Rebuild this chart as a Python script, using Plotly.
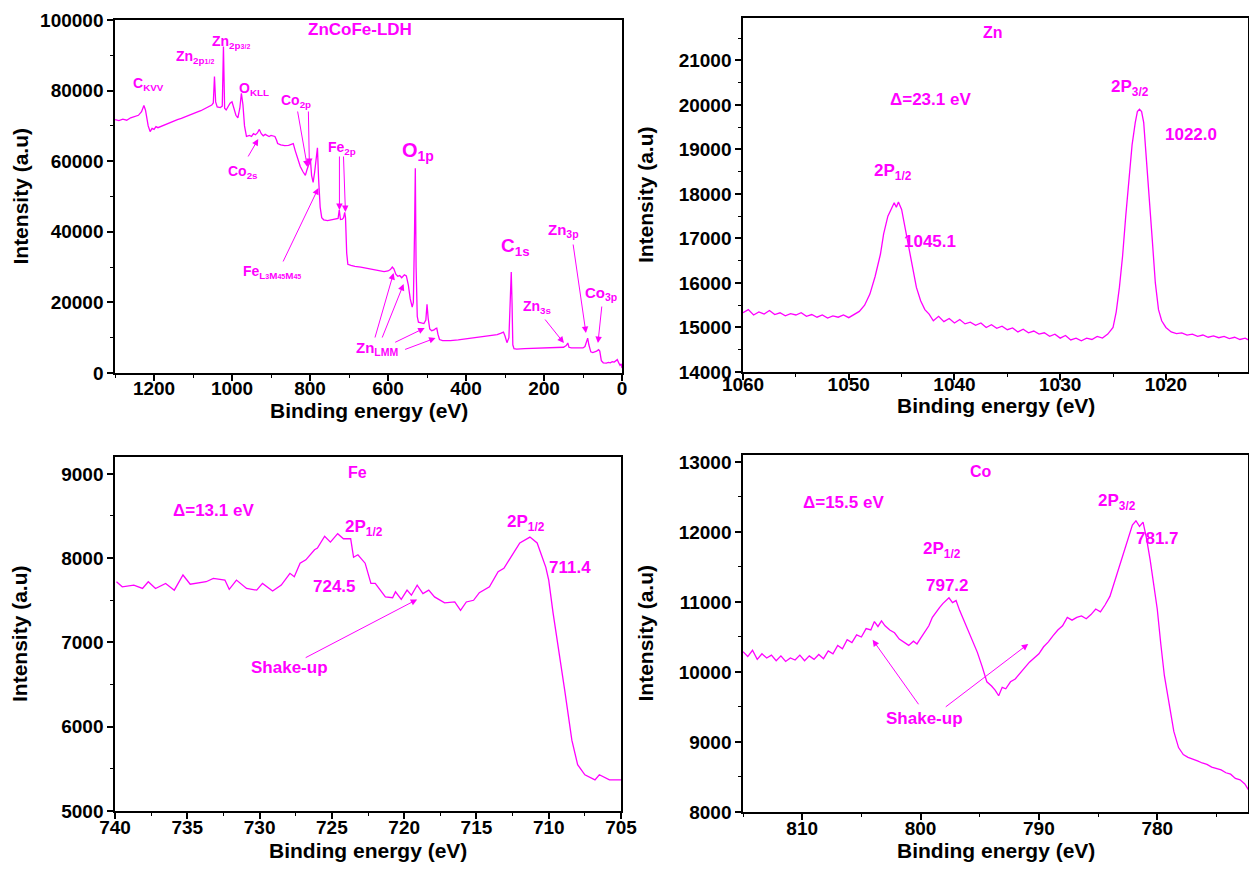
import plotly.graph_objects as go

MAG = "#FF00FF"
FONT = "Liberation Sans"

# ---------------- Survey spectrum (ZnCoFe-LDH) ----------------
surv_be = [1300, 1290, 1280, 1270, 1260, 1250, 1240, 1232, 1226, 1222, 1215, 1210, 1205, 1200, 1195,
           1190, 1180, 1170, 1160, 1150, 1140, 1130, 1120, 1110, 1100, 1090, 1080, 1070, 1060, 1052,
           1048, 1045, 1042, 1038, 1030, 1025, 1022, 1019, 1015, 1010, 1005, 1000, 996, 990, 985,
           980, 976, 972, 968, 963, 955, 950, 945, 940, 935, 930, 925, 920, 915, 910,
           905, 900, 895, 890, 886, 883, 875, 865, 855, 848, 843, 838, 830, 825, 818,
           812, 808, 803, 799, 796, 792, 788, 785, 781, 778, 774, 770, 765, 755, 745,
           735, 728, 725, 722, 717, 714, 711, 709, 706, 703, 695, 685, 670, 660, 650,
           640, 630, 620, 610, 600, 594, 589, 585, 580, 575, 570, 565, 558, 553, 548,
           543, 538, 535, 532, 530, 528, 525, 522, 515, 508, 503, 500, 497, 493, 488,
           482, 478, 475, 472, 468, 460, 450, 440, 420, 400, 380, 360, 340, 320, 310,
           304, 300, 295, 290, 286, 284, 282, 280, 277, 270, 250, 230, 200, 180, 165,
           150, 143, 139, 136, 130, 120, 110, 100, 95, 91, 88, 85, 80, 75, 70,
           65, 60, 57, 53, 48, 40, 35, 30, 25, 20, 15, 12, 8, 5, 2, 0]
surv_int = [71800, 71500, 71900, 71600, 72300, 72600, 73000, 74000, 75800, 74500, 70000, 68400, 69300, 69000, 69800,
            69500, 70000, 70400, 70900, 71300, 71800, 72100, 72600, 73100, 73400, 73900, 74300, 74800, 75300, 75900,
            76500, 84000, 76800, 75400, 75200, 75600, 92500, 75000, 74500, 75300, 76400, 76800, 75200, 73000, 72300,
            75000, 79200, 76000, 70000, 67000, 67300, 67000, 67800, 67500, 68000, 69000, 67800, 67200, 67600, 67400,
            67000, 67300, 67100, 67000, 66000, 65000, 64600, 64400, 64500, 64800, 65000, 63000, 60500, 58500, 57000,
            56000, 57500, 59500, 60500, 56000, 54000, 57000, 61000, 63800, 55000, 47000, 44000, 43400, 43200, 43400,
            43600, 43800, 46200, 43500, 43600, 44000, 45500, 44000, 34000, 30800, 30500, 30200, 30000, 29800, 29500,
            29300, 29000, 28800, 28700, 28900, 29300, 30000, 29500, 28000, 27400, 27600, 27000, 27800, 27500, 25000,
            21000, 18700, 20000, 40000, 58000, 30000, 16000, 14400, 14100, 14000, 15000, 19500, 15500, 12500, 12000,
            12200, 12600, 12700, 11000, 9500, 9200, 9100, 9200, 9400, 9700, 9900, 10200, 10500, 10900, 11300,
            11600, 10500, 8600, 10000, 20000, 28600, 20000, 8000, 6900, 6800, 6900, 7000, 7000, 7100, 7200,
            7300, 7800, 8500, 7300, 7100, 7100, 7000, 7100, 7500, 8800, 9900, 8000, 6000, 5800, 5900,
            6200, 6600, 6200, 3500, 2900, 2800, 3000, 2900, 3200, 3100, 3500, 3800, 2800, 2200, 2600, 1400]

# ---------------- Zn 2p ----------------
zn_be = [1060, 1059.5, 1059, 1058.5, 1058, 1057.5, 1057, 1056.5, 1056, 1055.5, 1055, 1054.5, 1054, 1053.5, 1053,
         1052.5, 1052, 1051.5, 1051, 1050.5, 1050, 1049.5, 1049, 1048.5, 1048, 1047.5, 1047, 1046.7, 1046.3, 1046,
         1045.7, 1045.5, 1045.3, 1045, 1044.7, 1044.4, 1044, 1043.6, 1043.2, 1042.8, 1042.4, 1042, 1041.5, 1041, 1040.5,
         1040, 1039.5, 1039, 1038.5, 1038, 1037.5, 1037, 1036.5, 1036, 1035.5, 1035, 1034.5, 1034, 1033.5, 1033,
         1032.5, 1032, 1031.5, 1031, 1030.5, 1030, 1029.5, 1029, 1028.5, 1028, 1027.5, 1027, 1026.5, 1026, 1025.5,
         1025, 1024.7, 1024.4, 1024.1, 1023.8, 1023.5, 1023.2, 1022.9, 1022.7, 1022.5, 1022.3, 1022.1, 1021.9, 1021.6, 1021.3,
         1021, 1020.7, 1020.4, 1020, 1019.5, 1019, 1018.5, 1018, 1017.5, 1017, 1016.5, 1016, 1015.5, 1015, 1014.5,
         1014, 1013.5, 1013, 1012.5, 1012.2]
zn_int = [15330, 15400, 15280, 15350, 15300, 15380, 15290, 15330, 15260, 15310, 15280, 15330, 15250, 15290, 15230,
          15280, 15210, 15260, 15230, 15280, 15220, 15300, 15360, 15500, 15750, 16150, 16650, 17100, 17500, 17650,
          17800, 17700, 17820, 17650, 17300, 16900, 16400, 15900, 15600, 15400, 15300, 15150, 15250, 15130, 15200,
          15100, 15180, 15080, 15120, 15050, 15100, 15000, 15060, 14980, 15030, 14950, 14990, 14900, 14960, 14880,
          14920, 14850, 14880, 14800, 14850, 14760, 14820, 14720, 14760, 14700, 14760, 14730, 14800, 14760, 14850,
          15000, 15350, 15900, 16600, 17500, 18300, 19100, 19600, 19850, 19900, 19850, 19600, 19000, 18100, 17000,
          16000, 15400, 15150, 15000, 14900, 14860, 14880, 14830, 14850, 14800, 14830, 14780, 14810, 14770, 14800,
          14750, 14780, 14730, 14760, 14720]

# ---------------- Fe 2p ----------------
fe_be = [739.9, 739.5, 738.7, 738.1, 737.7, 737.2, 736.5, 735.9, 735.3, 734.8, 733.7, 733.2, 732.4, 732.1, 731.6,
         730.9, 730.2, 729.8, 729.1, 728.5, 727.9, 727.6, 727.2, 726.8, 726.2, 726.0, 725.5, 725.1, 724.6, 724.2,
         723.7, 723.5, 723.2, 722.7, 722.3, 722.0, 721.3, 720.8, 720.6, 720.2, 719.8, 719.5, 719.1, 718.7, 718.3,
         717.9, 717.2, 716.5, 716.1, 715.7, 715.2, 714.8, 714.1, 713.5, 713.1, 712.5, 712.0, 711.3, 710.8, 710.2,
         710.0, 709.7, 709.4, 708.9, 708.4, 708.0, 707.5, 706.8, 706.5, 705.8, 705.0]
fe_int = [7720, 7660, 7680, 7640, 7720, 7640, 7700, 7620, 7800, 7690, 7720, 7760, 7740, 7630, 7740,
          7640, 7620, 7700, 7610, 7680, 7820, 7780, 7940, 7980, 8100, 8120, 8260, 8190, 8290, 8230,
          8230, 8010, 8040, 7940, 7700, 7700, 7540, 7530, 7600, 7510, 7620, 7560, 7680, 7580, 7620,
          7540, 7470, 7480, 7380, 7480, 7500, 7590, 7660, 7840, 7880, 8040, 8180, 8250, 8180, 7890,
          7740, 7350, 7030, 6440, 5840, 5550, 5430, 5370, 5430, 5370, 5370]

# ---------------- Co 2p ----------------
co_be = [815.0, 814.6, 814.2, 813.8, 813.4, 813.0, 812.6, 812.2, 811.8, 811.4, 811.0, 810.6, 810.2, 809.8, 809.4,
         809.0, 808.6, 808.2, 807.8, 807.4, 807.0, 806.6, 806.2, 805.8, 805.4, 805.0, 804.6, 804.2, 803.9, 803.6,
         803.3, 803.0, 802.6, 802.2, 801.8, 801.4, 801.0, 800.6, 800.3, 800.0, 799.6, 799.3, 799.0, 798.7, 798.4,
         798.1, 797.8, 797.6, 797.3, 797.0, 796.7, 796.4, 796.0, 795.6, 795.2, 794.8, 794.4, 794.0, 793.7, 793.4,
         793.1, 792.8, 792.4, 792.0, 791.6, 791.2, 790.8, 790.4, 790.0, 789.6, 789.2, 788.8, 788.4, 788.0, 787.6,
         787.2, 786.8, 786.4, 786.0, 785.6, 785.2, 784.8, 784.4, 784.0, 783.6, 783.2, 782.8, 782.4, 782.1, 781.8,
         781.5, 781.2, 780.9, 780.6, 780.3, 780.0, 779.7, 779.4, 779.0, 778.6, 778.2, 777.8, 777.4, 777.0, 776.6,
         776.2, 775.8, 775.4, 775.0, 774.6, 774.2, 773.8, 773.4, 773.0, 772.6, 772.3]
co_int = [10290, 10220, 10310, 10180, 10260, 10200, 10240, 10160, 10230, 10150, 10200, 10170, 10240, 10160, 10230,
          10180, 10250, 10190, 10300, 10260, 10380, 10330, 10460, 10420, 10530, 10500, 10620, 10600, 10720, 10650,
          10730, 10660, 10600, 10560, 10470, 10420, 10380, 10440, 10400, 10480, 10580, 10660, 10780, 10860, 10920,
          10980, 11020, 11060, 10990, 11020, 10880, 10760, 10600, 10440, 10280, 10080, 9860, 9800, 9740, 9660,
          9780, 9760, 9860, 9900, 9980, 10060, 10140, 10200, 10260, 10360, 10430, 10520, 10600, 10660, 10780,
          10740, 10780, 10800, 10760, 10820, 10900, 10860, 10960, 11080, 11300, 11500, 11720, 11950, 12100, 12160,
          12080, 12140, 11900, 11600, 11250, 10900, 10400, 9950, 9550, 9150, 8920, 8820, 8780, 8760, 8730,
          8700, 8680, 8640, 8620, 8600, 8560, 8540, 8480, 8460, 8400, 8320]

fig = go.Figure()
line = dict(color=MAG, width=1.3)
fig.add_trace(go.Scatter(x=surv_be, y=surv_int, mode="lines", line=line, xaxis="x", yaxis="y", showlegend=False))
fig.add_trace(go.Scatter(x=zn_be, y=zn_int, mode="lines", line=line, xaxis="x2", yaxis="y2", showlegend=False))
fig.add_trace(go.Scatter(x=fe_be, y=fe_int, mode="lines", line=line, xaxis="x3", yaxis="y3", showlegend=False))
fig.add_trace(go.Scatter(x=co_be, y=co_int, mode="lines", line=line, xaxis="x4", yaxis="y4", showlegend=False))


def ax_style(dtick, minor_dtick, rng, domain, anchor, lso=0):
    return dict(
        range=rng, domain=domain, anchor=anchor,
        showline=True, linecolor="black", linewidth=1.5, mirror=True,
        ticks="outside", ticklen=6, tickwidth=1.5, tickcolor="black",
        showgrid=False, zeroline=False, dtick=dtick, tick0=0, tickformat="d",
        ticklabelstandoff=lso,
        tickfont=dict(family=FONT, size=19, color="black", weight="bold"),
        minor=dict(ticks="outside", ticklen=3, tickwidth=1.2, tickcolor="black", dtick=minor_dtick, showgrid=False),
        automargin=False,
    )


xl = [0.0921, 0.498]
xr = [0.5949, 0.9995]
fig.update_layout(
    width=1249, height=880,
    margin=dict(l=0, r=0, t=0, b=0),
    paper_bgcolor="white", plot_bgcolor="white",
    xaxis=ax_style(200, 100, [1300, 0], xl, "y", -9),
    yaxis=ax_style(20000, 10000, [0, 100000], [0.5761, 0.9773], "x"),
    xaxis2=ax_style(10, 5, [1060, 1012.2], xr, "y2", -12),
    yaxis2=ax_style(1000, 500, [14000, 21950], [0.5773, 0.9795], "x2"),
    xaxis3=ax_style(5, 2.5, [740, 705], [0.0921, 0.4972], "y3", -8),
    yaxis3=ax_style(1000, 500, [5000, 9200], [0.0784, 0.4807], "x3"),
    xaxis4=ax_style(10, 5, [815, 772.3], xr, "y4", -8),
    yaxis4=ax_style(1000, 500, [8000, 13100], [0.0773, 0.483], "x4"),
)

# axis titles (placed relative to each plot area)
title_font = dict(family=FONT, size=21, color="black", weight="bold")
for sp, xdy, ydx in [("", -37, -95), ("2", -34, -98), ("3", -39, -95), ("4", -39, -98)]:
    fig.add_annotation(xref="x" + sp + " domain", yref="y" + sp + " domain", x=0.5, y=0,
                       xanchor="center", yanchor="middle",
                       yshift=xdy, text="Binding energy (eV)", showarrow=False, font=title_font)
    fig.add_annotation(xref="x" + sp + " domain", yref="y" + sp + " domain", x=0, y=0.5,
                       xanchor="center", yanchor="middle",
                       xshift=ydx, textangle=-90, text="Intensity (a.u)", showarrow=False, font=title_font)


def sm(t):
    return "<span style='font-size:7px'>" + t + "</span>"


labels = [
    # (subplot, x, y, text, size)
    ("", 670.6, 97170, "ZnCoFe-LDH", 17),
    ("", 1215, 81870, "C<sub>KVV</sub>", 14),
    ("", 1094.6, 89520, "Zn<sub>2p</sub><sub>" + sm("1/2") + "</sub>", 14),
    ("", 1002, 93770, "Zn<sub>2p</sub><sub>" + sm("3/2") + "</sub>", 14),
    ("", 943, 80460, "O<sub>KLL</sub>", 14),
    ("", 835, 77060, "Co<sub>2p</sub>", 14),
    ("", 971, 56940, "Co<sub>2s</sub>", 14),
    ("", 716.9, 63740, "Fe<sub>2p</sub>", 14),
    ("", 524, 62610, "O<sub>1p</sub>", 20),
    ("", 896.7, 28610, "Fe<sub>L</sub><sub>" + sm("3") + "</sub><sub>M</sub><sub>" + sm("45") + "</sub><sub>M</sub><sub>" + sm("45") + "</sub>", 14),
    ("", 627, 7080, "Zn<sub>LMM</sub>", 15),
    ("", 272.4, 35700, "C<sub>1s</sub>", 19),
    ("", 215.8, 18700, "Zn<sub>3s</sub>", 14),
    ("", 149, 40510, "Zn<sub>3p</sub>", 15),
    ("", 54, 22660, "Co<sub>3p</sub>", 15),
    ("2", 1036.4, 21620, "Zn", 16),
    ("2", 1042.3, 20110, "Δ=23.1 eV", 17),
    ("2", 1023.4, 20380, "2P<sub>3/2</sub>", 17),
    ("2", 1017.6, 19330, "1022.0", 17),
    ("2", 1045.8, 18490, "2P<sub>1/2</sub>", 17),
    ("2", 1042.3, 16920, "1045.1", 17),
    ("3", 723.2, 9020, "Fe", 16),
    ("3", 733.2, 8570, "Δ=13.1 eV", 17),
    ("3", 722.8, 8360, "2P<sub>1/2</sub>", 17),
    ("3", 724.8, 7660, "724.5", 17),
    ("3", 711.6, 8420, "2P<sub>1/2</sub>", 17),
    ("3", 708.5, 7890, "711.4", 17),
    ("3", 727.9, 6700, "Shake-up", 17),
    ("4", 794.9, 12870, "Co", 16),
    ("4", 806.5, 12420, "Δ=15.5 eV", 17),
    ("4", 783.4, 12430, "2P<sub>3/2</sub>", 17),
    ("4", 780.0, 11900, "781.7", 17),
    ("4", 798.2, 11740, "2P<sub>1/2</sub>", 17),
    ("4", 797.7, 11230, "797.2", 17),
    ("4", 799.7, 9340, "Shake-up", 17),
]
for sp, x, y, t, s in labels:
    fig.add_annotation(x=x, y=y, xref="x" + sp, yref="y" + sp, text=t, showarrow=False,
                       xanchor="center", yanchor="middle",
                       font=dict(family=FONT, size=s, color=MAG, weight="bold"))

arrows = [
    # (subplot, head x, head y, tail dx px, tail dy px)
    ("", 806.8, 58360, -10, -57),
    ("", 801.7, 58930, -1, -55),
    ("", 932.7, 66290, -11, 19),
    ("", 724.6, 46180, 0, -55),
    ("", 709.2, 45610, -2, -57),
    ("", 778.5, 52410, -36, 75),
    ("", 585.8, 28330, -19, 66),
    ("", 560, 25210, -22, 55),
    ("", 506, 12750, -31, 15),
    ("", 478, 9920, -32, 12),
    ("", 149, 8500, -20, -25),
    ("", 92.5, 11330, -13, -90),
    ("", 61.7, 8500, 4, -38),
    ("3", 719.1, 7510, -113, 59),
    ("4", 804.05, 10460, 47, 66),
    ("4", 790.9, 10400, -84, 64),
]
for sp, x, y, dx, dy in arrows:
    fig.add_annotation(x=x, y=y, xref="x" + sp, yref="y" + sp, text="", showarrow=True,
                       ax=dx, ay=dy, arrowhead=2, arrowsize=1.3, arrowwidth=1, arrowcolor=MAG, standoff=0)

fig.write_html("out.html", config={"displayModeBar": False},
               post_script="document.body.style.margin='0';")
